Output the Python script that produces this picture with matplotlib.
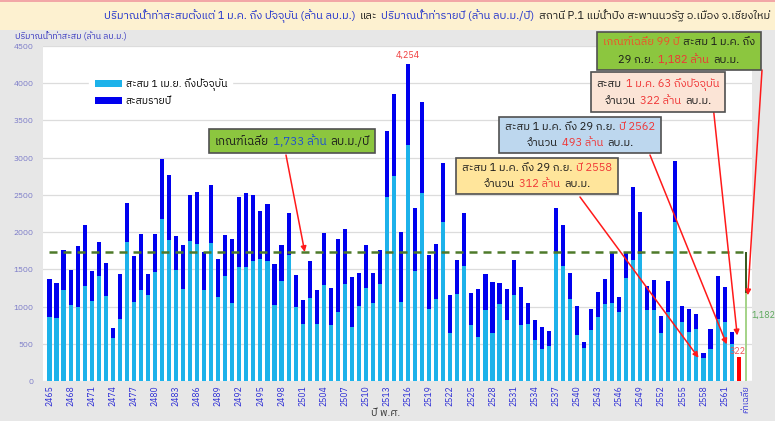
import numpy as np
import matplotlib
matplotlib.use('Agg')
import matplotlib.pyplot as plt
from matplotlib import font_manager
from matplotlib.ft2font import FT2Font
from matplotlib.offsetbox import TextArea, HPacker, VPacker, AnnotationBbox
from matplotlib.patches import Rectangle

#------------------------------------- data -------------------------------------#

years = [str(y) for y in range(2465, 2564)]          # 2465 .. 2563
annual = [1375, 1321, 1763, 1496, 1817, 2094, 1482, 1870, 1585, 714,
          1442, 2397, 1683, 1973, 1437, 1973, 2982, 2768, 1942, 1821,
          2495, 2540, 1732, 2634, 1634, 1964, 1906, 2473, 2527, 2495,
          2290, 2375, 1571, 1826, 2259, 1420, 1089, 1611, 1219, 1990,
          1255, 1905, 2040, 1403, 1457, 1825, 1457, 1766, 3358, 3851,
          2004, 4254, 2327, 3748, 1686, 1838, 2927, 1152, 1632, 2255,
          1184, 1233, 1444, 1331, 1318, 1237, 1632, 1264, 1054, 816,
          731, 677, 2327, 2089, 1457, 1009, 520, 973, 1192, 1376,
          1735, 1134, 1717, 2609, 2268, 1278, 1358, 879, 1345, 2950,
          1013, 964, 906, 372, 699, 1417, 1264, 663]          # 2465 .. 2562
since_jan = [862, 848, 1228, 1022, 991, 1272, 1080, 1415, 1143, 576,
             830, 1870, 1067, 1219, 1152, 1460, 2174, 1897, 1496, 1237,
             1884, 1839, 1219, 1857, 1129, 1415, 1045, 1527, 1527, 1607,
             1634, 1607, 1027, 1339, 1696, 991, 768, 1116, 759, 1296,
             758, 923, 1300, 731, 1004, 1251, 1045, 1309, 2466, 2748,
             1067, 3165, 1484, 2524, 973, 1098, 2134, 641, 1175, 1551,
             753, 587, 950, 645, 1036, 820, 1161, 758, 771, 551,
             426, 475, 1717, 1551, 1103, 623, 444, 681, 865, 1031,
             1049, 928, 1390, 1632, 1704, 959, 959, 650, 924, 2138,
             798, 663, 704, 312, 435, 829, 789, 493]           # 2465 .. 2562
current_2563 = 322
avg_since_jan = 1182
avg_annual = 1733
categories = years + ['ค่าเฉลี่ย']

#------------------------------------- font with thai glyphs -------------------------------------#

def thai_family():
    found = []
    for f in font_manager.fontManager.ttflist:
        try:
            if FT2Font(f.fname).get_char_index(0x0E01):
                found.append(f.name)
        except Exception:
            pass
    for name in found:
        if 'Thai' in name:
            return name
    return found[0] if found else 'DejaVu Sans'

thai = thai_family()
plt.rcParams['font.family'] = [thai, 'DejaVu Sans']

W, H = 775, 421

def fp(x, y):
    # pixel position (from top left) -> figure fraction
    return (x / W, 1 - y / H)

#------------------------------------- figure -------------------------------------#

fig = plt.figure(figsize=(W / 100, H / 100), dpi=100, facecolor='#e7e7e7')
fig.patches.append(Rectangle(fp(0, 30), 1, 30 / H, transform=fig.transFigure,
                             facecolor='#fdf1d0', edgecolor='none', zorder=0))
fig.patches.append(Rectangle(fp(0, 2), 1, 2 / H, transform=fig.transFigure,
                             facecolor='#f2a7a7', edgecolor='none', zorder=0))

ax = fig.add_axes([43 / W, 1 - 381 / H, 709 / W, 335 / H])
ax.set_facecolor('white')

n = len(years) - 1
idx = np.arange(n)
ax.bar(idx, annual, width=0.58, color='#0000ee', label='สะสมรายปี', zorder=2)
ax.bar(idx, since_jan, width=0.58, color='#1db2ea', label='สะสม 1 เม.ย. ถึงปัจจุบัน', zorder=3)
ax.bar(n, current_2563, width=0.58, color='#ff0000', zorder=3)
ax.bar(n + 1, avg_annual - avg_since_jan, bottom=avg_since_jan, width=0.3, color='#3b5b20', zorder=3)
ax.bar(n + 1, avg_since_jan, width=0.3, color='#a6d48a', zorder=3)
ax.plot(np.arange(n + 2), [avg_annual] * (n + 2), color='#4e7a2a', lw=1.8,
        dashes=(3.2, 2.4), zorder=4)

ax.set_xlim(-0.92, n + 1 + 0.9)
ax.set_ylim(0, 4500)
ax.set_yticks(np.arange(0, 4501, 500))
ax.yaxis.grid(True, color='#dcdcdc', lw=0.9, zorder=0)
ax.set_axisbelow(True)
ticks = list(range(0, n + 2, 3))
ax.set_xticks(ticks)
ax.set_xticklabels([categories[i] for i in ticks], rotation=90)
ax.tick_params(axis='x', length=0, pad=3, labelsize=6.2, labelcolor='#2b2bd6')
ax.tick_params(axis='y', length=0, pad=7, labelsize=6, labelcolor='#7a7ac8')
for s in ax.spines.values():
    s.set_visible(False)

handles, labels = ax.get_legend_handles_labels()
leg = ax.legend(handles[::-1], labels[::-1], loc='upper left', bbox_to_anchor=(0.058, 0.935),
                frameon=True, fontsize=7.5, handlelength=2.6, handleheight=0.7,
                labelspacing=0.6, borderpad=0.5, handletextpad=0.4)
leg.get_frame().set_edgecolor('white')
leg.get_frame().set_alpha(1)

ax.annotate(f'{max(annual):,}', xy=(int(np.argmax(annual)), max(annual)), xytext=(0, 3),
            textcoords='offset points', ha='center', va='bottom', color='#f03a3a', fontsize=6.5)
ax.annotate(f'{current_2563}', xy=(n, current_2563), xytext=(-1, 1),
            textcoords='offset points', ha='center', va='bottom', color='#f05050', fontsize=6.5,
            zorder=7)
ax.annotate(f'{avg_since_jan:,}', xy=(n + 1, avg_since_jan * 0.75), xytext=(4, 0),
            textcoords='offset points', ha='left', va='center', color='#5aa85a', fontsize=6.5,
            annotation_clip=False)

#------------------------------------- texts and boxes -------------------------------------#

BLK, RED, BLU = '#1a1a1a', '#f03434', '#1f4fd0'

def rich(lines, size):
    rows = []
    for line in lines:
        parts = [TextArea(s, textprops=dict(color=c, fontsize=size)) for s, c in line]
        rows.append(HPacker(children=parts, align='baseline', pad=0, sep=3))
    return VPacker(children=rows, align='center', pad=0, sep=4)

def box(lines, center, fc, size=8):
    ab = AnnotationBbox(rich(lines, size), fp(*center), xycoords='figure fraction',
                        frameon=True, pad=0.4, fontsize=10,
                        bboxprops=dict(facecolor=fc, edgecolor='#505050', lw=1.2), zorder=6)
    ax.add_artist(ab)

def arrow(start, xy):
    ax.annotate('', xy=xy, xycoords='data', xytext=fp(*start), textcoords='figure fraction',
                arrowprops=dict(arrowstyle='-|>', color='#ff1a1a', lw=1.1, mutation_scale=8,
                                shrinkA=0, shrinkB=0), zorder=5, annotation_clip=False)

title = rich([[('ปริมาณน้ำท่าสะสมตั้งแต่ 1 ม.ค. ถึง ปัจจุบัน (ล้าน ลบ.ม.)', '#2233cc'),
               ('และ', BLK),
               ('ปริมาณน้ำท่ารายปี (ล้าน ลบ.ม./ปี)', '#2233cc'),
               ('สถานี P.1 แม่น้ำปิง สะพานนวรัฐ อ.เมือง จ.เชียงใหม่', BLK)]], 8)
fig.add_artist(AnnotationBbox(title, fp(437, 16), xycoords='figure fraction', frameon=False))

fig.text(*fp(15, 37), 'ปริมาณน้ำท่าสะสม (ล้าน ลบ.ม.)', fontsize=6.3, color='#3434c0', va='center')
fig.text(*fp(386, 413), 'ปี พ.ศ.', fontsize=7.5, color='#333333', ha='center', va='center')

box([[('เกณฑ์เฉลี่ย', BLK), ('1,733 ล้าน', BLU), ('ลบ.ม./ปี', BLK)]], (292, 141), '#8cc63f', 8.5)
box([[('สะสม 1 ม.ค. ถึง 29 ก.ย.', BLK), ('ปี 2558', RED)],
     [('จำนวน', BLK), ('312 ล้าน', RED), ('ลบ.ม.', BLK)]], (537, 176), '#ffe59b')
box([[('สะสม 1 ม.ค. ถึง 29 ก.ย.', BLK), ('ปี 2562', RED)],
     [('จำนวน', BLK), ('493 ล้าน', RED), ('ลบ.ม.', BLK)]], (580, 135), '#bdd7ee')
box([[('สะสม', BLK), ('1 ม.ค. 63 ถึงปัจจุบัน', RED)],
     [('จำนวน', BLK), ('322 ล้าน', RED), ('ลบ.ม.', BLK)]], (658, 92), '#fbe4d6')
box([[('เกณฑ์เฉลี่ย 99 ปี', '#f0502a'), ('สะสม 1 ม.ค. ถึง', BLK)],
     [('29 ก.ย.', BLK), ('1,182 ล้าน', RED), ('ลบ.ม.', BLK)]], (679, 51), '#8cc63f')

arrow((286, 155), (36.3, avg_annual))
arrow((580, 197), (92.3, since_jan[93]))
arrow((650, 155), (96.3, since_jan[97]))
arrow((713, 105), (n - 0.2, current_2563 + 290))
arrow((762, 70), (n + 1.3, avg_since_jan - 30))

fig.savefig('out.png', dpi=100, facecolor=fig.get_facecolor())
